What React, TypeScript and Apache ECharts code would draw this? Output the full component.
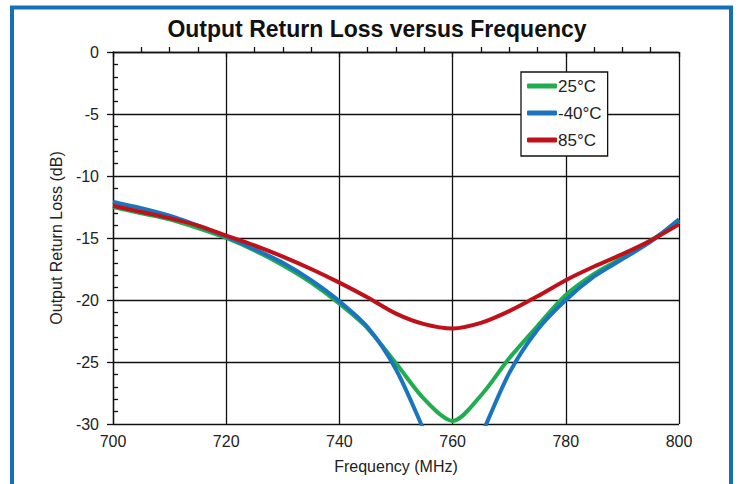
import React, { useEffect, useRef } from "react";
import * as echarts from "echarts";

const freqs = [700, 705, 710, 715, 720, 725, 730, 735, 740, 745, 750, 755, 760, 765, 770, 775, 780, 785, 790, 795, 800];
const loss25 = [-12.5, -13.0, -13.5, -14.2, -15.0, -16.0, -17.2, -18.6, -20.3, -22.3, -25.1, -28.0, -29.75, -27.7, -24.7, -22.1, -19.6, -17.9, -16.6, -15.2, -13.7];
const lossM40 = [-12.1, -12.6, -13.2, -14.0, -14.9, -15.9, -17.0, -18.4, -20.1, -22.2, -25.6, -30.6, -36.0, -31.0, -25.9, -22.4, -20.0, -18.1, -16.7, -15.3, -13.5];
const loss85 = [-12.4, -12.9, -13.4, -14.0, -14.8, -15.6, -16.5, -17.5, -18.6, -19.8, -21.1, -21.95, -22.3, -21.85, -20.9, -19.7, -18.4, -17.3, -16.3, -15.2, -13.9];
const seriesNames = ["25°C", "-40°C", "85°C"];
const seriesColors = ["#1fad4e", "#1a74be", "#c0101a"];
const titleText = "Output Return Loss versus Frequency";
const xName = "Frequency (MHz)";
const yName = "Output Return Loss (dB)";

const FONT = "Liberation Sans, Arial, sans-serif";

export default function App() {
  const ref = useRef<HTMLDivElement>(null);
  useEffect(() => {
    document.body.style.margin = "0";
    const chart = echarts.init(ref.current!, null, { renderer: "svg" });
    const allSeries = [loss25, lossM40, loss85];
    const axisLineStyle = { color: "#111", width: 1.3 };
    chart.setOption({
      animation: false,
      backgroundColor: "#fff",
      title: {
        text: titleText,
        left: 372,
        top: 12,
        textAlign: "center",
        textStyle: { fontFamily: FONT, fontSize: 23, fontWeight: "bold", color: "#111" },
      },
      graphic: [
        {
          type: "rect",
          shape: { x: 12, y: 7.5, width: 719, height: 500 },
          style: { fill: "none", stroke: "#1670b8", lineWidth: 4 },
          silent: true,
        },
      ],
      legend: {
        orient: "vertical",
        left: 521,
        top: 72,
        padding: [5, 6, 7, 6],
        itemGap: 9,
        itemWidth: 30,
        itemHeight: 5,
        icon: "roundRect",
        borderColor: "#111",
        borderWidth: 1.3,
        backgroundColor: "#fff",
        textStyle: { fontFamily: FONT, fontSize: 17, color: "#222", lineHeight: 18, padding: [0, 0, 0, -4] },
        data: seriesNames,
      },
      grid: { left: 113, right: 59, top: 52, bottom: 60 },
      xAxis: [
        {
          type: "value",
          min: 700,
          max: 800,
          interval: 20,
          name: xName,
          nameLocation: "middle",
          nameGap: 34,
          nameTextStyle: { fontFamily: FONT, fontSize: 16, color: "#222" },
          axisLine: { show: true, lineStyle: axisLineStyle },
          axisTick: { show: true, inside: true, length: 0 },
          minorTick: { show: true, splitNumber: 4, length: 5, lineStyle: { color: "#111", width: 1.3 } },
          axisLabel: { fontFamily: FONT, fontSize: 16, color: "#222", margin: 9 },
          splitLine: { show: true, lineStyle: axisLineStyle },
        },
        {
          type: "value",
          min: 700,
          max: 800,
          interval: 20,
          position: "bottom",
          axisLine: { show: false },
          axisTick: { show: true, inside: false, length: 5, lineStyle: { color: "#111", width: 1.3 } },
          axisLabel: { show: false },
          splitLine: { show: false },
        },
      ],
      yAxis: [
        {
          type: "value",
          min: -30,
          max: 0,
          interval: 5,
          name: yName,
          nameLocation: "middle",
          nameGap: 43,
          nameTextStyle: { fontFamily: FONT, fontSize: 16, color: "#222" },
          axisLine: { show: true, lineStyle: axisLineStyle },
          axisTick: { show: true, inside: true, length: 0 },
          minorTick: { show: true, splitNumber: 5, length: 5, lineStyle: { color: "#111", width: 1.3 } },
          axisLabel: { fontFamily: FONT, fontSize: 16, color: "#222", margin: 14 },
          splitLine: { show: true, lineStyle: axisLineStyle },
        },
        {
          type: "value",
          min: -30,
          max: 0,
          interval: 5,
          position: "left",
          axisLine: { show: false },
          axisTick: { show: true, inside: false, length: 6, lineStyle: { color: "#111", width: 1.3 } },
          axisLabel: { show: false },
          splitLine: { show: false },
        },
      ],
      series: allSeries.map((vals, i) => ({
        name: seriesNames[i],
        type: "line",
        xAxisIndex: 0,
        yAxisIndex: 0,
        smooth: 0.3,
        clip: true,
        showSymbol: false,
        symbol: "none",
        color: seriesColors[i],
        lineStyle: { color: seriesColors[i], width: 4 },
        data: freqs.map((f, j) => [f, vals[j]]),
      })),
    });
    return () => chart.dispose();
  }, []);
  return <div ref={ref} style={{ position: "fixed", left: 0, top: 0, width: 738, height: 484 }} />;
}
